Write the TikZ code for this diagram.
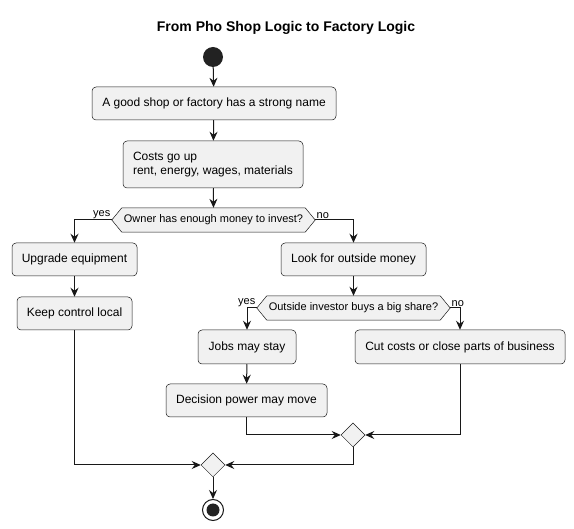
\documentclass[tikz,border=0pt]{standalone}
\usepackage{fontspec}
\setmainfont{Liberation Sans}
\usepackage{xcolor}
\usetikzlibrary{shapes.geometric,arrows.meta,positioning,calc}

\definecolor{boxfill}{HTML}{F1F1F1}
\definecolor{boxline}{HTML}{181818}
\definecolor{dotfill}{HTML}{222222}

% hexagon frame drawn round a decision node
\newcommand{\hexframe}[1]{%
  \draw[boxline, line width=0.5pt, fill=boxfill]
    (#1.west) -- ([xshift=10pt]#1.north west) -- ([xshift=-10pt]#1.north east)
    -- (#1.east) -- ([xshift=-10pt]#1.south east) -- ([xshift=10pt]#1.south west) -- cycle;}

\begin{document}
\begin{tikzpicture}[
    x=1pt, y=-1pt,
    action/.style={rectangle, draw=boxline, fill=boxfill, line width=0.5pt, rounded corners=4pt, minimum height=33pt, inner sep=0pt, font=\fontsize{12}{14}\selectfont, text centered},
    decision/.style={rectangle, minimum height=24pt, inner sep=0pt, font=\fontsize{11}{13}\selectfont},
    merge/.style={diamond, draw=boxline, fill=boxfill, line width=0.5pt, minimum size=24pt, inner sep=0pt, aspect=1},
    arrow/.style={-{Stealth[length=9pt, width=8pt, inset=3pt]}, draw=boxline, line width=1pt},
    lbl/.style={font=\fontsize{11}{13}\selectfont, inner sep=1pt}
]
    \useasboundingbox (0,0) rectangle (574,529);

    % Title
    \node[font=\fontsize{14}{16}\selectfont\bfseries] (title) at (286,28) {From Pho Shop Logic to Factory Logic};

    % Start
    \node[circle, fill=dotfill, minimum size=20pt, inner sep=0pt] (start) at (213,57) {};

    % Main trunk
    \node[action, minimum width=244pt] (name) at (214,103.5) {A good shop or factory has a strong name};
    \node[action, minimum width=180pt, minimum height=47pt, align=left] (costs) at (213,164.5) {Costs go up\\rent, energy, wages, materials};

    % First decision
    \node[decision, minimum width=203pt] (owner) at (213.5,220) {};
    \hexframe{owner}
    \node[decision] at (owner) {Owner has enough money to invest?};

    % Left branch
    \node[action, minimum width=125pt] (upgrade) at (74.5,259.5) {Upgrade equipment};
    \node[action, minimum width=115pt] (keep) at (74.5,313.5) {Keep control local};

    % Right branch
    \node[action, minimum width=145pt] (look) at (353.5,259.5) {Look for outside money};

    % Second decision
    \node[decision, minimum width=193pt] (investor) at (353.5,308) {};
    \hexframe{investor}
    \node[decision] at (investor) {Outside investor buys a big share?};

    \node[action, minimum width=98pt, minimum height=34pt] (jobs) at (247,347) {Jobs may stay};
    \node[action, minimum width=210pt, minimum height=34pt] (cut) at (460,347) {Cut costs or close parts of business};
    \node[action, minimum width=161pt] (power) at (246.5,400.5) {Decision power may move};

    % Merges and end
    \node[merge] (mergeR) at (353,435) {};
    \node[merge] (mergeL) at (213,465) {};
    \node[circle, draw=boxline, fill=white, line width=1pt, minimum size=21pt, inner sep=0pt] (stop) at (213,510) {};
    \node[circle, fill=dotfill, minimum size=13pt, inner sep=0pt] at (stop) {};

    % Arrows - trunk
    \draw[arrow] (start) -- (name);
    \draw[arrow] (name) -- (costs);
    \draw[arrow] (costs) -- (owner.north);

    % Arrows - first decision
    \draw[arrow] (owner.west) node[lbl, above left] {yes} -| (upgrade);
    \draw[arrow] (owner.east) node[lbl, above right] {no} -| (look);
    \draw[arrow] (upgrade) -- (keep);
    \draw[arrow] (look) -- (investor.north);

    % Arrows - second decision
    \draw[arrow] (investor.west) node[lbl, above left] {yes} -| (jobs);
    \draw[arrow] (investor.east) node[lbl, above right] {no} -| (cut);
    \draw[arrow] (jobs) -- (power);

    % Arrows - merging
    \draw[arrow] (power.south) |- (mergeR.west);
    \draw[arrow] (cut.south) |- (mergeR.east);
    \draw[arrow] (keep.south) |- (mergeL.west);
    \draw[arrow] (mergeR.south) |- (mergeL.east);
    \draw[arrow] (mergeL) -- (stop);
\end{tikzpicture}
\end{document}
